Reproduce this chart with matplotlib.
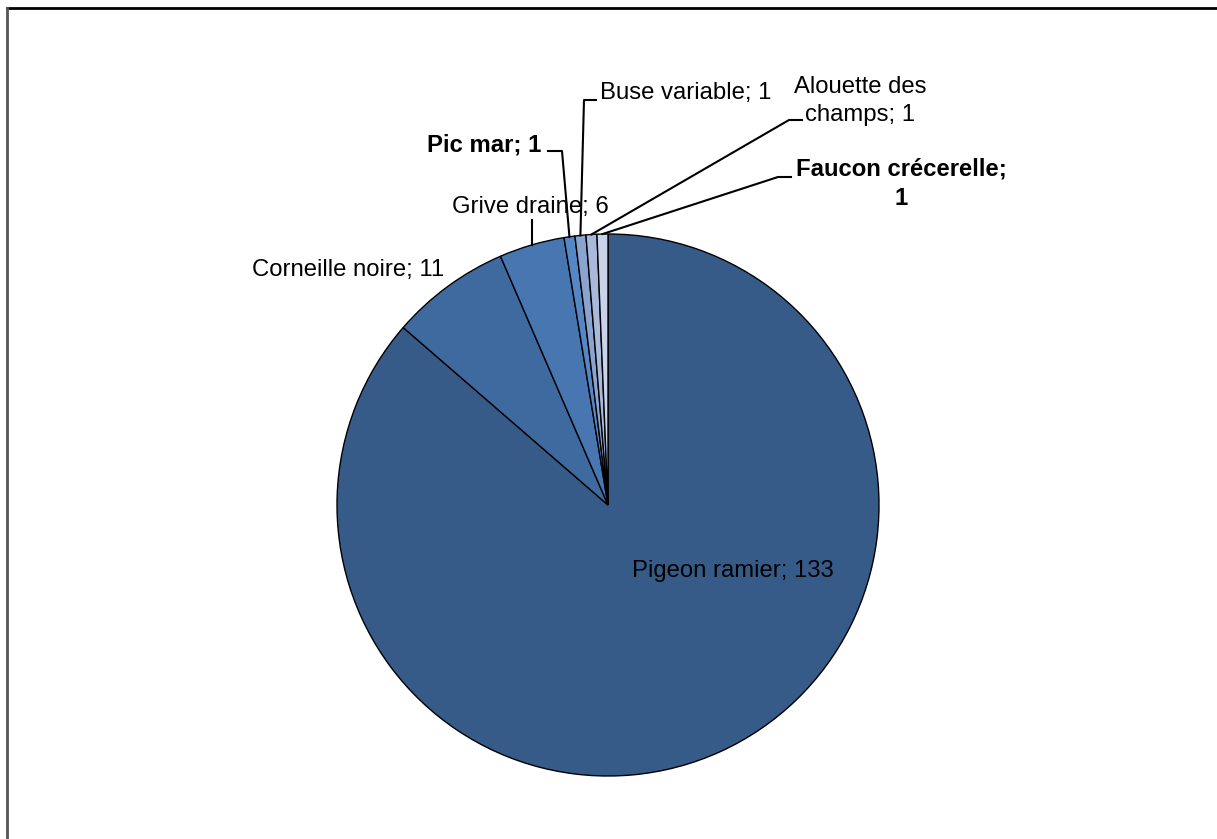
import numpy as np
import matplotlib.pyplot as plt

plt.rcParams['font.family'] = ['Liberation Sans', 'DejaVu Sans']

# data
species = ['Pigeon ramier', 'Corneille noire', 'Grive draine', 'Pic mar',
           'Buse variable', 'Alouette des\nchamps', 'Faucon crécerelle;\n']
counts = [133, 11, 6, 1, 1, 1, 1]
colors = ['#375b88', '#3f6a9f', '#4776b0', '#5586c6', '#8aa3cf', '#a9b9dc', '#c9d4e9']

W, H = 1217, 839


def py(y):
  # pixel row (from top) -> data y
  return H - y


fig = plt.figure(figsize=(W / 100, H / 100), dpi=100)
ax = fig.add_axes([0, 0, 1, 1])

cx, cy, r = 608, py(505), 271
wedges, _ = ax.pie(counts, colors=colors, startangle=90, counterclock=False,
                   center=(cx, cy), radius=r,
                   wedgeprops=dict(edgecolor='black', linewidth=1))
ax.set_xlim(0, W)
ax.set_ylim(0, H)
ax.axis('off')


def edge_point(w):
  a = np.deg2rad((w.theta1 + w.theta2) / 2)
  return cx + r * np.cos(a), cy + r * np.sin(a)


fs = 17.2
lw = 1.5
# Pigeon ramier (inside)
ax.text(733, py(571), '%s; %d' % (species[0], counts[0]), fontsize=fs,
        ha='center', va='center')
# Corneille noire (no leader)
ax.text(444, py(270), '%s; %d' % (species[1], counts[1]), fontsize=fs,
        ha='right', va='center')

# Grive draine
ex, ey = edge_point(wedges[2])
ax.plot([ex, ex], [ey, py(220)], color='black', lw=lw)
ax.text(530, py(207), '%s; %d' % (species[2], counts[2]), fontsize=fs,
        ha='center', va='center')

# Pic mar
ex, ey = edge_point(wedges[3])
ax.plot([ex, 562, 548], [ey, py(151), py(151)], color='black', lw=lw)
ax.text(541, py(145), '%s; %d' % (species[3], counts[3]), fontsize=fs,
        ha='right', va='center', fontweight='bold')

# Buse variable
ex, ey = edge_point(wedges[4])
ax.plot([ex, 584, 596], [ey, py(100), py(100)], color='black', lw=lw)
ax.text(600, py(93), '%s; %d' % (species[4], counts[4]), fontsize=fs,
        ha='left', va='center')

# Alouette des champs
ex, ey = edge_point(wedges[5])
ax.plot([ex, 789, 802], [ey, py(120), py(120)], color='black', lw=lw)
ax.text(860, py(101), '%s; %d' % (species[5], counts[5]), fontsize=fs,
        ha='center', va='center', linespacing=1.4)

# Faucon crecerelle
ex, ey = edge_point(wedges[6])
ax.plot([ex, 778, 791], [ey, py(177), py(177)], color='black', lw=lw)
ax.text(901, py(184), '%s%d' % (species[6], counts[6]), fontsize=fs,
        ha='center', va='center', fontweight='bold', linespacing=1.35)

# chart area border (top and left visible)
ax.plot([6.5, W], [py(7.5), py(7.5)], color='black', lw=2, clip_on=False)
ax.plot([6.5, 6.5], [0, py(7.5)], color='#555555', lw=2, clip_on=False)

fig.savefig('out.png', dpi=100)
